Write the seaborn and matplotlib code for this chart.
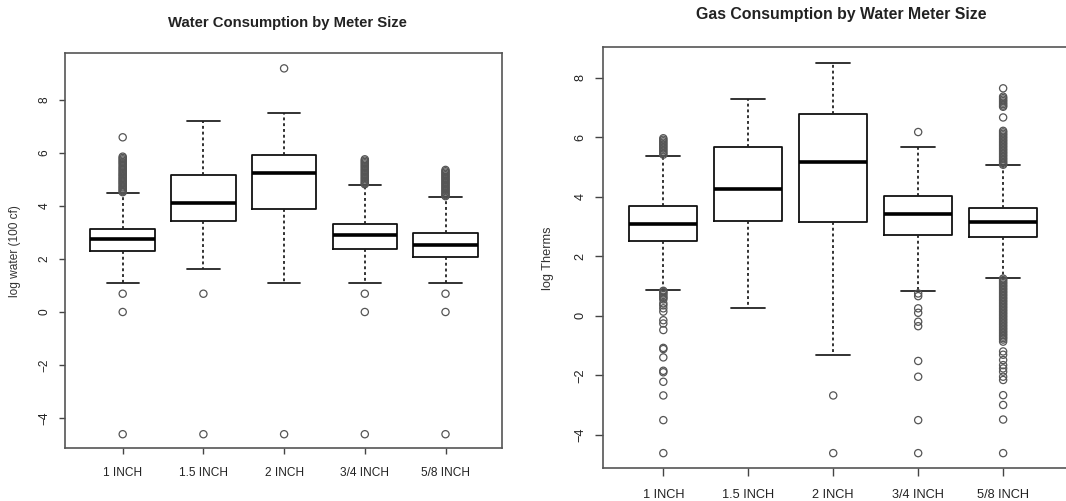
import matplotlib
matplotlib.use("Agg")
import matplotlib.pyplot as plt
import seaborn as sns
import pandas as pd

sizes = ["1 INCH", "1.5 INCH", "2 INCH", "3/4 INCH", "5/8 INCH"]

# Water consumption (log of 100 cubic feet): box statistics per meter size
water_q1 = [2.30, 3.43, 3.89, 2.36, 2.08]
water_med = [2.74, 4.13, 5.26, 2.92, 2.54]
water_q3 = [3.14, 5.17, 5.92, 3.33, 2.97]
water_lo = [1.11, 1.62, 1.11, 1.11, 1.11]
water_hi = [4.48, 7.21, 7.50, 4.79, 4.34]
water_out_1in = [6.59, 5.86, 5.81, 5.76, 5.71, 5.66, 5.61, 5.56, 5.50, 5.45, 5.40,
                 5.35, 5.30, 5.25, 5.20, 5.16, 5.11, 5.06, 5.02, 4.97, 4.93, 4.88,
                 4.84, 4.79, 4.74, 4.70, 4.65, 4.61, 4.56, 4.52, 0.69, 0.0, -4.61]
water_out_15in = [0.69, -4.61]
water_out_2in = [9.19, -4.61]
water_out_34in = [5.76, 5.71, 5.66, 5.61, 5.56, 5.51, 5.46, 5.41, 5.36, 5.31, 5.26,
                  5.21, 5.16, 5.11, 5.06, 5.01, 4.96, 4.91, 4.86, 4.82, 0.69, 0.0, -4.61]
water_out_58in = [5.36, 5.31, 5.26, 5.21, 5.16, 5.11, 5.06, 5.01, 4.96, 4.91, 4.86,
                  4.81, 4.76, 4.71, 4.66, 4.61, 4.56, 4.51, 4.46, 4.41, 4.37,
                  0.69, 0.0, -4.61]

# Gas consumption (log therms): box statistics per meter size
gas_q1 = [2.53, 3.20, 3.16, 2.71, 2.66]
gas_med = [3.10, 4.28, 5.18, 3.41, 3.16]
gas_q3 = [3.69, 5.69, 6.78, 4.03, 3.63]
gas_lo = [0.87, 0.27, -1.32, 0.83, 1.28]
gas_hi = [5.37, 7.29, 8.51, 5.66, 5.07]
gas_out_1in = [5.97, 5.92, 5.87, 5.82, 5.77, 5.72, 5.67, 5.62, 5.57, 5.52, 5.47, 5.42,
               0.84, 0.80, 0.75, 0.70, 0.64, 0.60, 0.55, 0.42, 0.35, 0.25, 0.14,
               -0.15, -0.26, -0.48, -1.08, -1.12, -1.40, -1.85, -1.90, -2.22,
               -2.68, -3.51, -4.62]
gas_out_15in = []
gas_out_2in = [-2.68, -4.62]
gas_out_34in = [6.18, 0.75, 0.66, 0.25, 0.10, -0.20, -0.35, -1.52, -2.05, -3.51, -4.62]
gas_out_58in = [7.65, 7.37, 7.32, 7.27, 7.22, 7.17, 7.12, 7.07, 7.03, 6.67,
                6.22, 6.17, 6.12, 6.07, 6.02, 5.97, 5.92, 5.87, 5.82, 5.77, 5.72,
                5.67, 5.62, 5.57, 5.52, 5.47, 5.42, 5.37, 5.32, 5.27, 5.22, 5.17,
                5.12, 5.08,
                1.25, 1.20, 1.15, 1.10, 1.05, 1.00, 0.95, 0.90, 0.85, 0.80, 0.75,
                0.70, 0.65, 0.60, 0.55, 0.50, 0.45, 0.40, 0.35, 0.30, 0.25, 0.20,
                0.15, 0.10, 0.05, 0.00, -0.05, -0.10, -0.15, -0.20, -0.25, -0.30,
                -0.35, -0.40, -0.45, -0.50, -0.55, -0.60, -0.65, -0.70, -0.75,
                -0.80, -0.87, -1.20, -1.31, -1.49, -1.66, -1.77, -1.88, -2.05,
                -2.16, -2.67, -3.00, -3.49, -4.62]

water_outliers = [water_out_1in, water_out_15in, water_out_2in, water_out_34in, water_out_58in]
gas_outliers = [gas_out_1in, gas_out_15in, gas_out_2in, gas_out_34in, gas_out_58in]

sns.set_style("white")
plt.rcParams["font.family"] = ["Liberation Sans", "DejaVu Sans"]

fig = plt.figure(figsize=(10.66, 5.01), dpi=100)
W, H = 1066, 501


def axes_px(x0, x1, y0, y1):
    return fig.add_axes([x0 / W, 1 - y1 / H, (x1 - x0) / W, (y1 - y0) / H])


def draw_panel(ax, q1, med, q3, lo, hi, outliers, xlim, ylim, fs, ticklen):
    stats = [dict(q1=a, med=m, q3=b, whislo=l, whishi=h, fliers=[])
             for a, m, b, l, h in zip(q1, med, q3, lo, hi)]
    ax.bxp(stats, positions=range(len(sizes)), widths=0.8, capwidths=0.4,
           showfliers=False, manage_ticks=False,
           boxprops=dict(color="#111111", linewidth=1.3),
           medianprops=dict(color="#000000", linewidth=2.6, solid_capstyle="butt"),
           whiskerprops=dict(color="#222222", linewidth=1.3, linestyle=(0, (1.6, 1.6))),
           capprops=dict(color="#222222", linewidth=1.3))
    df = pd.DataFrame({
        "size": [s for s, vals in zip(sizes, outliers) for _ in vals],
        "value": [v for vals in outliers for v in vals],
    })
    sns.stripplot(data=df, x="size", y="value", order=sizes, jitter=False,
                  marker="o", size=5.2, facecolor="none", edgecolor="#555555",
                  linewidth=0.9, ax=ax, zorder=3)
    ax.set_xlim(*xlim)
    ax.set_ylim(*ylim)
    ax.set_xticks(range(len(sizes)))
    ax.set_xticklabels(sizes, fontsize=fs, color="#222222")
    ax.set_yticks([-4, -2, 0, 2, 4, 6, 8])
    ax.set_yticklabels(["\u22124", "\u22122", "0", "2", "4", "6", "8"],
                       rotation=90, va="center", fontsize=fs, color="#222222")
    ax.tick_params(axis="both", direction="out", length=ticklen, width=1.0,
                   color="#444444", left=True, bottom=True)
    ax.tick_params(axis="x", pad=9)
    ax.tick_params(axis="y", pad=6)
    ax.set_xlabel("")
    ax.set_ylabel("")
    for sp in ax.spines.values():
        sp.set_visible(True)
        sp.set_color("#555555")
        sp.set_linewidth(1.2)


ax1 = axes_px(65, 502, 53, 448)
draw_panel(ax1, water_q1, water_med, water_q3, water_lo, water_hi, water_outliers,
           (-0.715, 4.70), (-5.13, 9.77), 8.6, 4.5)

ax2 = axes_px(603, 1066, 47, 468)
draw_panel(ax2, gas_q1, gas_med, gas_q3, gas_lo, gas_hi, gas_outliers,
           (-0.71, 4.74), (-5.12, 9.04), 9.2, 6)
ax2.spines["right"].set_visible(False)

fig.text(287 / W, 1 - 23 / H, "Water Consumption by Meter Size", ha="center",
         va="center", fontsize=10.7, fontweight="bold", color="#222222")
fig.text(841 / W, 1 - 14 / H, "Gas Consumption by Water Meter Size", ha="center",
         va="center", fontsize=11.4, fontweight="bold", color="#222222")
fig.text(15 / W, 1 - 251 / H, "log water (100 cf)", rotation=90, ha="center",
         va="center", fontsize=8.6, color="#333333")
fig.text(548 / W, 1 - 258 / H, "log Therms", rotation=90, ha="center",
         va="center", fontsize=9.2, color="#333333")

fig.savefig("out.png", dpi=100, facecolor="white")
